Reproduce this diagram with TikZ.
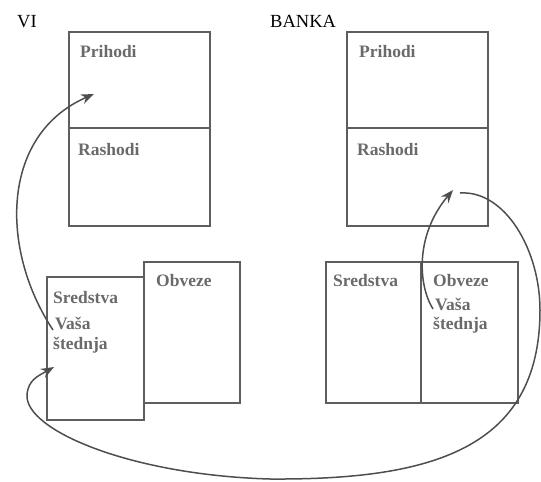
\documentclass[tikz,border=0pt]{standalone}
\usepackage{fontspec}
\setmainfont{Liberation Serif}
\usetikzlibrary{arrows.meta}
\definecolor{boxgray}{HTML}{5E5E5E}
\definecolor{txtgray}{HTML}{6A6A6A}
\definecolor{arrgray}{HTML}{4E4E4E}
\begin{document}
\begin{tikzpicture}[
	x=1pt, y=-1pt,
	box/.style={ draw=boxgray, line width=1.6pt, inner sep=0pt },
	lbl/.style={ anchor=base west, inner sep=0pt, text=txtgray, font=\fontsize{17.5}{20}\selectfont\bfseries },
	ttl/.style={ anchor=base west, inner sep=0pt, font=\fontsize{18.5}{22}\selectfont },
	flow/.style={ draw=arrgray, line width=1.5pt, -{Stealth[length=13pt,width=10pt]} }
]
\useasboundingbox (0,0) rectangle (541,482);

% titles
\node at (17,27) (vi) [ttl] {VI};
\node at (270,27) (banka) [ttl] {BANKA};

% income statements
\node at (139.5,80) (viP) [box,minimum width=141pt,minimum height=96pt] {};
\node at (139.5,177) (viR) [box,minimum width=141pt,minimum height=98pt] {};
\node at (417.5,80) (bP) [box,minimum width=141pt,minimum height=96pt] {};
\node at (417.5,177) (bR) [box,minimum width=141pt,minimum height=98pt] {};
\node at (80,57) [lbl] {Prihodi};
\node at (78,155) [lbl] {Rashodi};
\node at (359,57) [lbl] {Prihodi};
\node at (357,155) [lbl] {Rashodi};

% balance sheets
\node at (192,332.5) (viO) [box,minimum width=96pt,minimum height=141pt] {};
\node at (95.5,348.5) (viS) [box,minimum width=97pt,minimum height=143pt] {};
\node at (373.5,332.5) (bS) [box,minimum width=95pt,minimum height=141pt] {};
\node at (469.5,332.5) (bO) [box,minimum width=97pt,minimum height=141pt] {};
\node at (53,303) [lbl] {Sredstva};
\node at (55,329) (viV) [lbl] {Vaša};
\node at (53,349) [lbl] {štednja};
\node at (156,286) [lbl] {Obveze};
\node at (333,286) [lbl] {Sredstva};
\node at (433,286) [lbl] {Obveze};
\node at (435,310) (bV) [lbl] {Vaša};
\node at (433,329) [lbl] {štednja};

% flows
\coordinate (a1) at (53,330);
\coordinate (a2) at (94,94);
\coordinate (b1) at (460,193);
\coordinate (b2) at (54,367);
\coordinate (c1) at (433,309);
\coordinate (c2) at (453,190);
\draw[flow] (a1) .. controls (0,250) and (0,135) .. (a2);
\draw[flow] (b1) .. controls (505,190) and (540,250) .. (540,310)
	.. controls (540,450) and (430,480) .. (270,479)
	.. controls (130,475) and (25,430) .. (27,395)
	.. controls (28,380) and (38,376) .. (b2);
\draw[flow] (c1) .. controls (418,285) and (415,235) .. (c2);

\end{tikzpicture}
\end{document}
